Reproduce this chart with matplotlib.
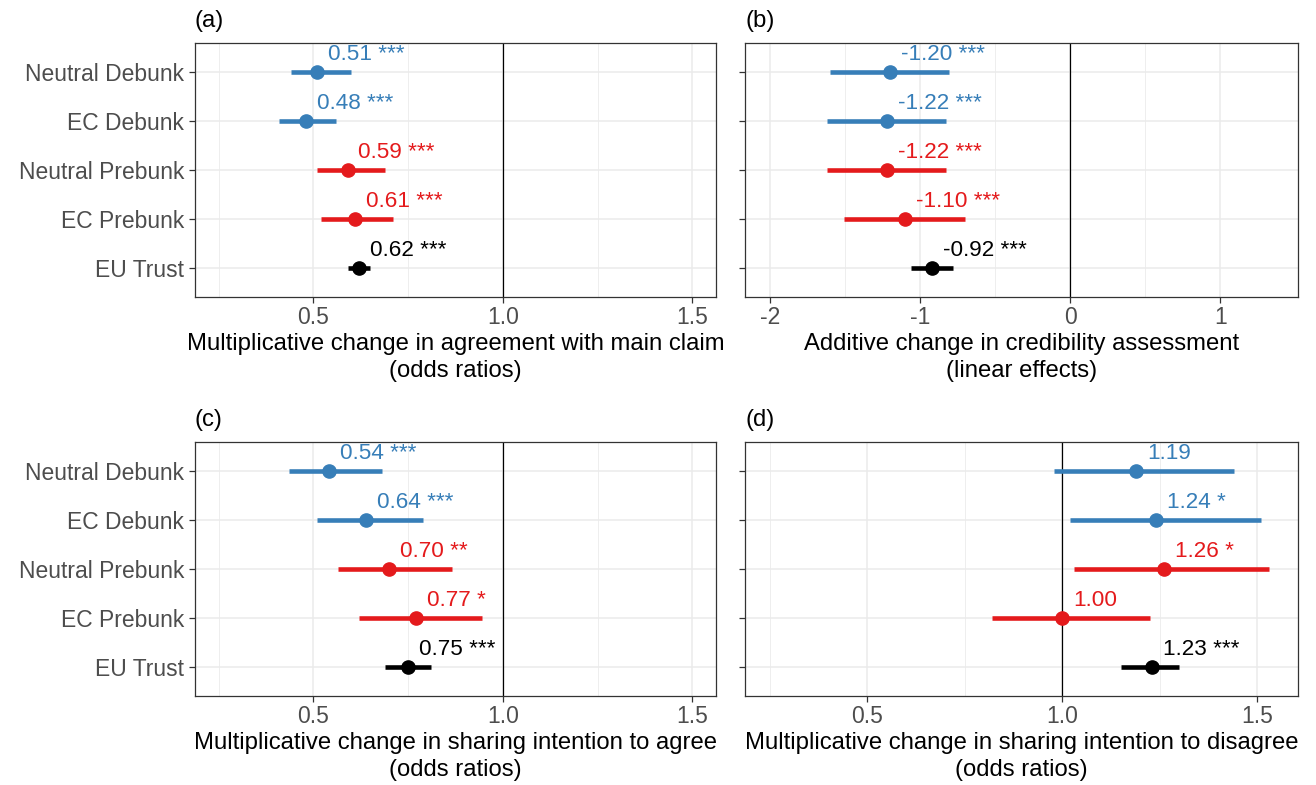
import matplotlib
matplotlib.use("Agg")
import matplotlib.pyplot as plt
import numpy as np

plt.rcParams['font.family'] = ['Liberation Sans', 'DejaVu Sans']
plt.rcParams['axes.unicode_minus'] = False

########
# data
########
terms = ["Neutral Debunk", "EC Debunk", "Neutral Prebunk", "EC Prebunk", "EU Trust"]
term_colors = ["#377EB8", "#377EB8", "#E41A1C", "#E41A1C", "#000000"]

# (a) agreement with main claim, odds ratios
agree_est = [0.51, 0.48, 0.59, 0.61, 0.62]
agree_lo = [0.44, 0.41, 0.51, 0.52, 0.59]
agree_hi = [0.60, 0.56, 0.69, 0.71, 0.65]
agree_stars = ["***", "***", "***", "***", "***"]

# (b) credibility assessment, linear effects
cred_est = [-1.20, -1.22, -1.22, -1.10, -0.92]
cred_lo = [-1.60, -1.62, -1.62, -1.51, -1.06]
cred_hi = [-0.81, -0.83, -0.83, -0.70, -0.78]
cred_stars = ["***", "***", "***", "***", "***"]

# (c) sharing intention to agree, odds ratios
shag_est = [0.54, 0.64, 0.70, 0.77, 0.75]
shag_lo = [0.435, 0.51, 0.565, 0.62, 0.69]
shag_hi = [0.68, 0.79, 0.865, 0.945, 0.81]
shag_stars = ["***", "***", "**", "*", "***"]

# (d) sharing intention to disagree, odds ratios
shdis_est = [1.19, 1.24, 1.26, 1.00, 1.23]
shdis_lo = [0.98, 1.02, 1.03, 0.82, 1.15]
shdis_hi = [1.44, 1.51, 1.53, 1.225, 1.30]
shdis_stars = ["", "*", "*", "", "***"]

########
# layout (pixels)
########
W, H = 1316, 785
fig = plt.figure(figsize=(W / 100, H / 100), dpi=100)

def px_axes(l, t, r, b):
    return fig.add_axes([l / W, 1 - b / H, (r - l) / W, (b - t) / H])

FS_TICK = 16.5
FS_TITLE = 17.2
FS_VAL = 16.2
GRID = "#EBEBEB"
DARK = "#333333"

def forest(ax, est, lo, hi, stars, ref, xlim, major, minor, xlabel, tag, show_y):
    ypos = np.arange(len(terms))[::-1] + 1
    ax.set_xlim(*xlim)
    ax.set_ylim(0.4, len(terms) + 0.6)
    ax.set_xticks(major)
    ax.set_xticks(minor, minor=True)
    ax.set_yticks(ypos)
    ax.set_yticklabels(terms if show_y else [])
    ax.grid(True, which='major', color=GRID, lw=1.1, zorder=0)
    ax.grid(True, which='minor', axis='x', color=GRID, lw=0.6, zorder=0)
    ax.set_axisbelow(True)
    ax.axvline(ref, color='black', lw=0.9, zorder=1)
    for y, e, l, h, s, c in zip(ypos, est, lo, hi, stars, term_colors):
        ax.plot([l, h], [y, y], color=c, lw=3.3, solid_capstyle='butt', zorder=2)
        ax.plot(e, y, 'o', color=c, ms=9.5, zorder=3)
        ax.annotate(("%.2f %s" % (e, s)).strip(), (e, y), xytext=(7.9, 8.6),
                    textcoords='offset points', ha='left', va='baseline',
                    color=c, fontsize=FS_VAL, zorder=4)
    for sp in ax.spines.values():
        sp.set_color(DARK)
        sp.set_linewidth(0.9)
    ax.tick_params(axis='both', which='major', length=4.5, width=0.9, color=DARK,
                   labelcolor='#4D4D4D', labelsize=FS_TICK)
    ax.tick_params(axis='x', pad=2)
    ax.tick_params(axis='y', pad=3.5)
    ax.tick_params(which='minor', length=0)
    ax.set_xlabel(xlabel, fontsize=FS_TITLE, labelpad=3, linespacing=1.3)
    pos = ax.get_position()
    fig.text(pos.x0, pos.y1 + 22 / H, tag, fontsize=FS_TITLE, ha='left', va='center')

or_major = [0.5, 1.0, 1.5]
or_minor = [0.25, 0.75, 1.25]

ax_a = px_axes(195, 43, 716, 297)
forest(ax_a, agree_est, agree_lo, agree_hi, agree_stars, 1.0, (0.1875, 1.5625),
       or_major, or_minor,
       "Multiplicative change in agreement with main claim\n(odds ratios)", "(a)", True)

ax_b = px_axes(745, 43, 1298, 297)
forest(ax_b, cred_est, cred_lo, cred_hi, cred_stars, 0.0, (-2.167, 1.517),
       [-2, -1, 0, 1], [-1.5, -0.5, 0.5],
       "Additive change in credibility assessment\n(linear effects)", "(b)", False)
ax_b.set_xticklabels(["-2", "-1", "0", "1"])

ax_c = px_axes(195, 442, 716, 696)
forest(ax_c, shag_est, shag_lo, shag_hi, shag_stars, 1.0, (0.1875, 1.5625),
       or_major, or_minor,
       "Multiplicative change in sharing intention to agree\n(odds ratios)", "(c)", True)

ax_d = px_axes(745, 442, 1298, 696)
forest(ax_d, shdis_est, shdis_lo, shdis_hi, shdis_stars, 1.0, (0.186, 1.605),
       or_major, or_minor,
       "Multiplicative change in sharing intention to disagree\n(odds ratios)", "(d)", False)

for ax in (ax_a, ax_c, ax_d):
    ax.set_xticklabels(["0.5", "1.0", "1.5"])

fig.savefig("out.png", dpi=100, facecolor='white')
